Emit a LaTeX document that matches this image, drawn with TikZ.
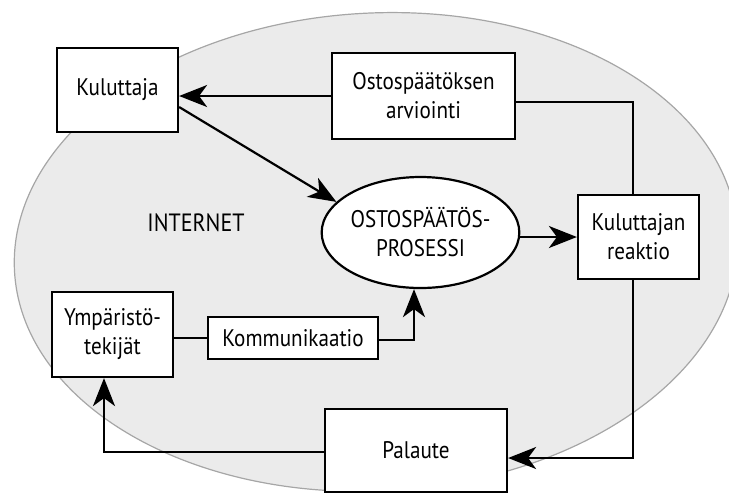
\documentclass[tikz,border=0pt]{standalone}
\usepackage{fontspec}
\setmainfont{PT Sans}[FakeStretch=0.88]
\usetikzlibrary{arrows.meta,shapes.geometric,calc}
\begin{document}
\begin{tikzpicture}[x=0.5pt,y=-0.5pt,
  every node/.style={font=\fontsize{12pt}{14.5pt}\selectfont, align=center, inner sep=0pt},
  box/.style={draw, fill=white, line width=1.1pt, rectangle},
  link/.style={line width=1.1pt},
  arr/.style={line width=1.1pt, -{Stealth[length=14pt,width=11pt,inset=4pt]}}]
\useasboundingbox (0,0) rectangle (729,494);
% internet area
\fill[black!8, draw=black!35, line width=0.6pt, rotate around={3:(376,252)}] (376,252) ellipse [x radius=362, y radius=239];
\node[font=\fontsize{12.5pt}{14.5pt}\selectfont] (net) at (196,223) {INTERNET};
% nodes
\node[box, minimum width=60.5pt, minimum height=42pt] (kul) at (117.5,90) {Kuluttaja};
\node[box, minimum width=91.5pt, minimum height=43pt] (arv) at (423.5,96) {Ostospäätöksen\\arviointi};
\node[draw, fill=white, line width=1.1pt, ellipse, minimum width=91.5pt, minimum height=55.5pt] (proc) at (420.5,232.5) {OSTOSPÄÄTÖS-\\PROSESSI};
\node[box, minimum width=60.5pt, minimum height=42pt] (reak) at (638.5,237) {Kuluttajan\\reaktio};
\node[box, minimum width=60.5pt, minimum height=42.5pt] (ymp) at (112.5,334.5) {Ympäristö-\\tekijät};
\node[box, minimum width=85pt, minimum height=21pt] (kom) at (293,338) {Kommunikaatio};
\node[box, minimum width=91pt, minimum height=41.5pt] (pal) at (416,450.5) {Palaute};
% connectors
\draw[arr] (arv.west) -- (arv.west -| kul.east);
\draw[arr] ([yshift=-8.5pt]kul.east) -- (proc.160);
\draw[arr] (proc.east |- reak.west) -- (reak.west);
\draw[link] ([yshift=-3pt]arv.east) -| ([xshift=-2.75pt]reak.north);
\draw[arr] ([xshift=-2.75pt]reak.south) |- ([yshift=-3.75pt]pal.east);
\draw[arr] ([yshift=-0.75pt]pal.west) -| ([xshift=-4.25pt]ymp.south);
\draw[link] (kom.west) -- (kom.west -| ymp.east);
\draw[arr] ([yshift=-1pt]kom.east) -| ([xshift=-3.25pt]proc.south);
\end{tikzpicture}
\end{document}
